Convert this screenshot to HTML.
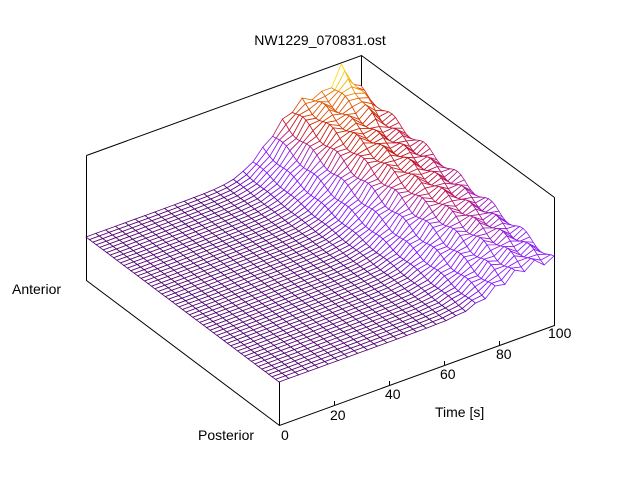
<!DOCTYPE html>
<html><head><meta charset="utf-8"><style>
html,body{margin:0;padding:0;background:#fff;width:640px;height:480px;overflow:hidden}
svg{display:block}
text{font-family:"Liberation Sans",sans-serif;font-size:14px;fill:#000}
</style></head><body>
<svg id="s" width="640" height="480" viewBox="0 0 640 480" xmlns="http://www.w3.org/2000/svg">
<g stroke="#000" stroke-width="1" fill="none">
<path d="M86.5,155.5 L361.5,55.5 L554.5,197.5 M361.5,55.5 L361.5,180.5 M86.5,155.5 L86.5,280.5 L279.5,425.5 L554.5,325.5 L554.5,197.5 M279.5,381.5 L279.5,425.5"/>
<path d="M334.5,405 l0,-4 M389.5,385 l0,-4 M444.5,365 l0,-4 M499.5,345 l0,-4 M554.5,325 l0,-4"/>
</g>
<g id="mesh"></g>
<text x="320" y="45" text-anchor="middle">NW1229_070831.ost</text>
<text x="12" y="294">Anterior</text>
<text x="198" y="440">Posterior</text>
<text x="281" y="440">0</text>
<text x="330" y="420">20</text>
<text x="385" y="399">40</text>
<text x="440" y="379">60</text>
<text x="496" y="359">80</text>
<text x="548" y="338">100</text>
<text x="435" y="417">Time [s]</text>
</svg>
<script>
function Z(p,t){
  var t0=75-11*p, A=20+26*p;
  var s=1/(1+Math.exp(-(t-t0)/4.5));
  var ov=1+0.3*Math.exp(-Math.pow((t-t0-16)/10,2));
  var spike=(p>0.8?28*(p-0.8)/0.2*Math.exp(-Math.pow((t-93)/4,2)):0);
  var jag=4*s*Math.sin(p*37+t*0.9);
  return 43+A*s*ov+spike+jag;
}
function P(p,t,z){return [279-193*p+2.75*t, 425-145*p-t-z];}
function col(f){
  f=Math.max(0,Math.min(1,f));
  var st=[[0,[80,0,112]],[0.15,[128,16,255]],[0.4,[140,30,240]],[0.55,[190,20,80]],[0.7,[200,30,0]],[0.85,[235,120,0]],[1,[255,230,0]]];
  for(var i=1;i<st.length;i++){if(f<=st[i][0]){var a=st[i-1],b=st[i],u=(f-a[0])/(b[0]-a[0]);
    return 'rgb('+[0,1,2].map(function(k){return Math.round(a[1][k]+(b[1][k]-a[1][k])*u)}).join(',')+')';}}
  return 'rgb(255,230,0)';
}
var NP=56,NT=28,out=[];
for(var i=NP-1;i>=0;i--){
  for(var j=NT-1;j>=0;j--){
    var p0=i/NP,p1=(i+1)/NP,t0=j*100/NT,t1=(j+1)*100/NT;
    var zs=[Z(p0,t0),Z(p0,t1),Z(p1,t1),Z(p1,t0)];
    var pts=[P(p0,t0,zs[0]),P(p0,t1,zs[1]),P(p1,t1,zs[2]),P(p1,t0,zs[3])];
    var zm=(zs[0]+zs[1]+zs[2]+zs[3])/4;
    out.push('<polygon points="'+pts.map(function(q){return q[0].toFixed(1)+','+q[1].toFixed(1)}).join(' ')+'" fill="#fff" stroke="'+col((zm-43)/70)+'" stroke-width="0.8"/>');
  }
}
document.getElementById('mesh').innerHTML=out.join('');
</script>
</body></html>
